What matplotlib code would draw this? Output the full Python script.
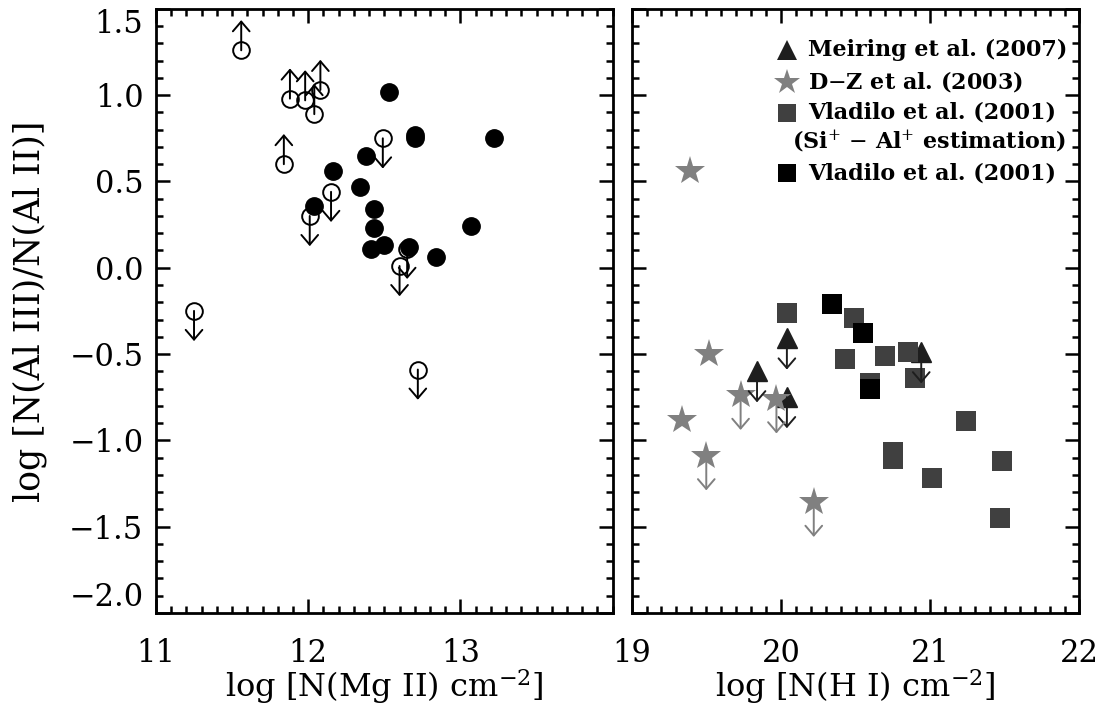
import matplotlib
matplotlib.use('Agg')
import matplotlib.pyplot as plt
import numpy as np
from matplotlib.ticker import MultipleLocator

plt.rcParams['font.family'] = 'DejaVu Serif'
plt.rcParams['mathtext.fontset'] = 'dejavuserif'
plt.rcParams['xtick.major.pad'] = 18
plt.rcParams['ytick.major.pad'] = 9
plt.rcParams['xtick.labelsize'] = 22
plt.rcParams['ytick.labelsize'] = 22

# left panel: open circles are limits (+1 lower limit, -1 upper limit)
mg_lim_x = [11.56, 11.88, 11.98, 12.04, 12.08, 11.84, 12.49, 12.15, 12.01, 12.65, 12.60, 11.25, 12.72]
mg_lim_y = [1.26, 0.98, 0.97, 0.89, 1.03, 0.60, 0.75, 0.44, 0.30, 0.11, 0.01, -0.25, -0.59]
mg_lim_dir = [1, 1, 1, 1, 1, 1, -1, -1, -1, -1, -1, -1, -1]
# left panel: detections
mg_x = [12.53, 12.70, 12.70, 13.22, 12.38, 12.16, 12.34, 12.04, 12.43, 12.43, 13.07, 12.41, 12.50, 12.66, 12.84]
mg_y = [1.02, 0.77, 0.75, 0.75, 0.65, 0.56, 0.47, 0.36, 0.34, 0.23, 0.24, 0.11, 0.13, 0.12, 0.06]

# right panel
meiring_x = [20.04, 19.84, 20.04, 20.94]
meiring_y = [-0.41, -0.60, -0.75, -0.49]
dz_x = [19.39, 19.52, 19.34, 19.73, 19.97, 19.50, 20.22]
dz_y = [0.56, -0.50, -0.88, -0.74, -0.76, -1.09, -1.36]
dz_lim = [False, False, False, True, True, True, True]
vl_est_x = [20.04, 20.49, 20.43, 20.70, 20.85, 20.90, 20.75, 20.75, 21.24, 21.01, 21.48, 21.47, 20.60]
vl_est_y = [-0.26, -0.29, -0.53, -0.51, -0.49, -0.64, -1.07, -1.11, -0.89, -1.22, -1.12, -1.45, -0.67]
vl_x = [20.34, 20.55, 20.60]
vl_y = [-0.21, -0.38, -0.70]

fig = plt.figure(figsize=(11.14, 7.11), dpi=100)
axL = fig.add_axes([0.140, 0.138, 0.410, 0.8495])
axR = fig.add_axes([0.567, 0.138, 0.402, 0.8495])


def arrow(ax, x, y, dy, color='black'):
    ax.annotate('', xy=(x, y + dy), xytext=(x, y),
                arrowprops=dict(arrowstyle='->,head_length=0.35,head_width=0.3',
                                lw=1.4, color=color, shrinkA=0, shrinkB=0,
                                mutation_scale=20))


# left panel
for x, y, d in zip(mg_lim_x, mg_lim_y, mg_lim_dir):
    arrow(axL, x, y, 0.175 * d)
axL.plot(mg_lim_x, mg_lim_y, 'o', ms=12, mfc='none', mec='black', mew=1.4, ls='none')
axL.plot(mg_x, mg_y, 'o', ms=12.5, color='black', ls='none')

# right panel
tri_c = '#1e1e1e'
star_c = '#808080'
gray_c = '#404040'
for x, y in zip(meiring_x, meiring_y):
    arrow(axR, x, y, -0.18, tri_c)
axR.plot(meiring_x, meiring_y, '^', ms=14, color=tri_c, ls='none')
for x, y, l in zip(dz_x, dz_y, dz_lim):
    if l:
        arrow(axR, x, y, -0.2, star_c)
axR.plot(dz_x, dz_y, '*', ms=22, color=star_c, mew=0, ls='none')
axR.plot(vl_est_x, vl_est_y, 's', ms=14, color=gray_c, mew=0, ls='none')
axR.plot(vl_x, vl_y, 's', ms=14, color='black', mew=0, ls='none')

# legend drawn by hand
leg_y = [0.932, 0.879, 0.828, 0.728]
leg_m = ['^', '*', 's', 's']
leg_c = [tri_c, star_c, gray_c, 'black']
leg_ms = [14, 19, 13, 13]
leg_t = ['Meiring et al. (2007)', 'D$-$Z et al. (2003)', 'Vladilo et al. (2001)', 'Vladilo et al. (2001)']
for y, m, c, s, t in zip(leg_y, leg_m, leg_c, leg_ms, leg_t):
    axR.plot([0.348], [y], m, ms=s, color=c, mew=0, transform=axR.transAxes, clip_on=False)
    axR.text(0.393, y, t, transform=axR.transAxes, fontsize=16, fontweight='bold', va='center', ha='left')
axR.text(0.359, 0.780, '(Si$^{+}$ $-$ Al$^{+}$ estimation)', transform=axR.transAxes,
         fontsize=16, fontweight='bold', va='center', ha='left')

for ax, xlim in ((axL, (11, 14)), (axR, (19, 22))):
    ax.set_xlim(*xlim)
    ax.set_ylim(-2.0, 1.5)
    ax.xaxis.set_major_locator(MultipleLocator(1))
    ax.xaxis.set_minor_locator(MultipleLocator(0.1))
    ax.yaxis.set_major_locator(MultipleLocator(0.5))
    ax.yaxis.set_minor_locator(MultipleLocator(0.1))
    for sp in ax.spines.values():
        sp.set_linewidth(2)
    ax.tick_params(which='both', direction='in', top=True, right=True, width=1.8)
    ax.tick_params(which='major', length=10)
    ax.tick_params(which='minor', length=5)

axL.set_xticks([11, 12, 13])
axR.set_xticks([19, 20, 21, 22])
axR.set_yticklabels([])
axL.set_yticks([-2.0, -1.5, -1.0, -0.5, 0.0, 0.5, 1.0, 1.5])
axL.set_yticklabels(['\u22122.0', '\u22121.5', '\u22121.0', '\u22120.5', '0.0', '0.5', '1.0', '1.5'])
# end labels kept inside the frame, as in the original
ylabs = axL.get_yticklabels()
ylabs[0].set_va('bottom')
ylabs[-1].set_va('top')

axL.set_xlabel('log [N(Mg II) cm$^{-2}$]', fontsize=23, labelpad=-1)
axR.set_xlabel('log [N(H I) cm$^{-2}$]', fontsize=23, labelpad=-1)
axL.set_ylabel('log [N(Al III)/N(Al II)]', fontsize=25, labelpad=16)

fig.savefig('out.png', dpi=100)
